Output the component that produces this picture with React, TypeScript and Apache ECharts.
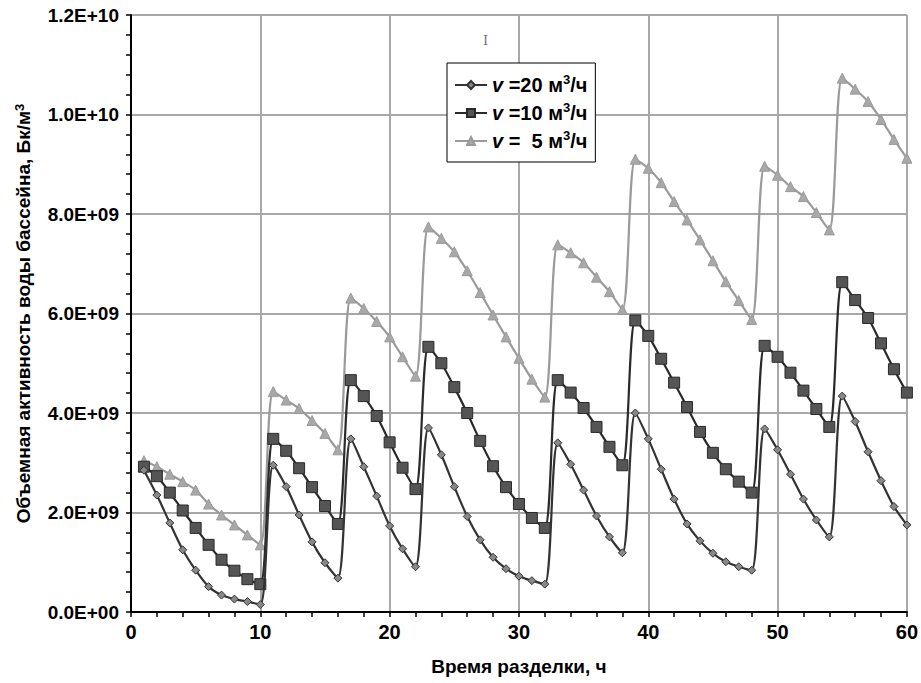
import React, { useEffect, useRef } from "react";
import * as echarts from "echarts";

const hours = [
  1, 2, 3, 4, 5, 6, 7, 8, 9, 10, 11, 12, 13, 14, 15, 16, 17, 18, 19, 20,
  21, 22, 23, 24, 25, 26, 27, 28, 29, 30, 31, 32, 33, 34, 35, 36, 37, 38, 39, 40,
  41, 42, 43, 44, 45, 46, 47, 48, 49, 50, 51, 52, 53, 54, 55, 56, 57, 58, 59, 60,
];

const v20 = [
  2.85e9, 2.35e9, 1.79e9, 1.25e9, 0.84e9, 0.51e9, 0.34e9, 0.26e9, 0.21e9, 0.15e9,
  2.95e9, 2.52e9, 1.95e9, 1.41e9, 0.99e9, 0.68e9,
  3.48e9, 2.92e9, 2.33e9, 1.73e9, 1.27e9, 0.91e9,
  3.70e9, 3.16e9, 2.52e9, 1.92e9, 1.45e9, 1.10e9, 0.87e9, 0.72e9, 0.63e9, 0.56e9,
  3.40e9, 2.97e9, 2.45e9, 1.93e9, 1.51e9, 1.19e9,
  4.00e9, 3.48e9, 2.87e9, 2.27e9, 1.77e9, 1.43e9, 1.18e9, 1.01e9, 0.91e9, 0.84e9,
  3.68e9, 3.26e9, 2.77e9, 2.27e9, 1.85e9, 1.51e9,
  4.34e9, 3.83e9, 3.22e9, 2.64e9, 2.12e9, 1.75e9,
];

const v10 = [
  2.92e9, 2.73e9, 2.40e9, 2.04e9, 1.69e9, 1.35e9, 1.05e9, 0.83e9, 0.66e9, 0.56e9,
  3.48e9, 3.24e9, 2.89e9, 2.51e9, 2.13e9, 1.77e9,
  4.66e9, 4.34e9, 3.94e9, 3.41e9, 2.90e9, 2.47e9,
  5.33e9, 5.00e9, 4.52e9, 4.00e9, 3.44e9, 2.93e9, 2.51e9, 2.17e9, 1.89e9, 1.69e9,
  4.66e9, 4.41e9, 4.10e9, 3.72e9, 3.32e9, 2.95e9,
  5.86e9, 5.55e9, 5.09e9, 4.61e9, 4.12e9, 3.62e9, 3.20e9, 2.87e9, 2.62e9, 2.40e9,
  5.35e9, 5.13e9, 4.81e9, 4.45e9, 4.08e9, 3.72e9,
  6.63e9, 6.27e9, 5.91e9, 5.40e9, 4.88e9, 4.41e9,
];

const v5 = [
  3.04e9, 2.92e9, 2.77e9, 2.62e9, 2.45e9, 2.17e9, 1.95e9, 1.75e9, 1.55e9, 1.35e9,
  4.43e9, 4.26e9, 4.09e9, 3.85e9, 3.59e9, 3.26e9,
  6.31e9, 6.10e9, 5.84e9, 5.53e9, 5.13e9, 4.74e9,
  7.74e9, 7.51e9, 7.24e9, 6.86e9, 6.42e9, 5.97e9, 5.53e9, 5.10e9, 4.68e9, 4.32e9,
  7.38e9, 7.22e9, 7.02e9, 6.73e9, 6.44e9, 6.08e9,
  9.10e9, 8.92e9, 8.63e9, 8.25e9, 7.88e9, 7.48e9, 7.06e9, 6.64e9, 6.26e9, 5.88e9,
  8.96e9, 8.78e9, 8.55e9, 8.35e9, 8.03e9, 7.68e9,
  10.73e9, 10.51e9, 10.26e9, 9.90e9, 9.50e9, 9.12e9,
];

const seriesNames = ["v = 20 м³/ч", "v = 10 м³/ч", "v = 5 м³/ч"];
const legendNumbers = ["20", "10", "\u20075"];
const yTickLabels = ["0.0E+00", "2.0E+09", "4.0E+09", "6.0E+09", "8.0E+09", "1.0E+10", "1.2E+10"];
const xTickLabels = ["0", "10", "20", "30", "40", "50", "60"];
const xTitle = "Время разделки, ч";
const yTitle = "Объемная активность воды бассейна, Бк/м";

const FONT = "'Liberation Sans', Arial, sans-serif";

export default function App() {
  const ref = useRef<HTMLDivElement>(null);
  useEffect(() => {
    if (!ref.current) return;
    const chart = echarts.init(ref.current, null, { renderer: "svg" });
    const pts = (vals: number[]) => hours.map((h, i) => [h, vals[i]]);
    const supRich = {
      t: { fontFamily: FONT, fontWeight: "bold", fontSize: 20, color: "#000", lineHeight: 24 },
      i: { fontFamily: FONT, fontWeight: "bold", fontStyle: "italic", fontSize: 20, color: "#000", lineHeight: 24 },
      sup: { fontFamily: FONT, fontWeight: "bold", fontSize: 13, color: "#000", verticalAlign: "top", lineHeight: 24, padding: [0, 0, 10, 0] },
    };
    chart.setOption({
      animation: false,
      backgroundColor: "#fff",
      grid: { left: 131, right: 13, top: 15, bottom: 71, containLabel: false },
      graphic: [
        {
          type: "text",
          left: 483,
          top: 34,
          style: { text: "I", fill: "#777", font: "13px 'DejaVu Serif', serif" },
        },
      ],
      legend: {
        orient: "vertical",
        left: 447,
        top: 63,
        padding: [10, 8, 10, 7],
        itemWidth: 32,
        itemHeight: 10,
        itemGap: 5,
        backgroundColor: "#fff",
        borderColor: "#000",
        borderWidth: 1,
        data: seriesNames,
        formatter: (name: string) => {
          const idx = seriesNames.indexOf(name);
          return `{i|v}{t| =${legendNumbers[idx]} м}{sup|3}{t|/ч}`;
        },
        textStyle: { rich: supRich },
      },
      xAxis: {
        type: "value",
        min: 0,
        max: 60,
        interval: 10,
        name: xTitle,
        nameLocation: "middle",
        nameGap: 45,
        nameTextStyle: { fontFamily: FONT, fontWeight: "bold", fontSize: 19, color: "#000" },
        axisLine: { lineStyle: { color: "#000", width: 2 } },
        axisTick: { show: true, inside: false, length: 5, lineStyle: { color: "#000", width: 1.5 } },
        minorTick: { show: true, splitNumber: 5, length: 5, lineStyle: { color: "#000", width: 1.5 } },
        splitLine: { show: true, lineStyle: { color: "#a8a8a8", width: 2 } },
        axisLabel: {
          margin: 10,
          fontFamily: FONT,
          fontWeight: "bold",
          fontSize: 20,
          color: "#000",
          formatter: (v: number) => xTickLabels[Math.round(v / 10)] ?? "",
        },
      },
      yAxis: {
        type: "value",
        min: 0,
        max: 1.2e10,
        interval: 2e9,
        name: yTitle + "{sup|3}",
        nameLocation: "middle",
        nameGap: 97,
        nameTextStyle: {
          fontFamily: FONT,
          fontWeight: "bold",
          fontSize: 19,
          color: "#000",
          rich: {
            sup: { fontFamily: FONT, fontWeight: "bold", fontSize: 13, color: "#000", verticalAlign: "top", padding: [0, 0, 8, 0] },
          },
        },
        axisLine: { show: true, lineStyle: { color: "#000", width: 2 } },
        axisTick: { show: true, inside: false, length: 5, lineStyle: { color: "#000", width: 1.5 } },
        minorTick: { show: true, splitNumber: 5, length: 5, lineStyle: { color: "#000", width: 1.5 } },
        splitLine: { show: true, lineStyle: { color: "#a8a8a8", width: 2 } },
        axisLabel: {
          margin: 12,
          fontFamily: FONT,
          fontWeight: "bold",
          fontSize: 19,
          color: "#000",
          formatter: (v: number) => yTickLabels[Math.round(v / 2e9)] ?? "",
        },
      },
      series: [
        {
          name: seriesNames[2],
          type: "line",
          data: pts(v5),
          smooth: 0.3,
          symbol: "triangle",
          symbolSize: 10,
          z: 2,
          lineStyle: { color: "#9a9a9a", width: 2.2 },
          itemStyle: { color: "#a8a8a8", borderColor: "#9a9a9a", borderWidth: 1 },
        },
        {
          name: seriesNames[1],
          type: "line",
          data: pts(v10),
          smooth: 0.3,
          symbol: "rect",
          symbolSize: 11,
          z: 3,
          lineStyle: { color: "#2a2a2a", width: 2.2 },
          itemStyle: { color: "#555", borderColor: "#2a2a2a", borderWidth: 1 },
        },
        {
          name: seriesNames[0],
          type: "line",
          data: pts(v20),
          smooth: 0.3,
          symbol: "diamond",
          symbolSize: 8,
          z: 4,
          lineStyle: { color: "#333", width: 2.2 },
          itemStyle: { color: "#888", borderColor: "#333", borderWidth: 1 },
        },
      ],
    });
    return () => chart.dispose();
  }, []);
  return (
    <div
      ref={ref}
      style={{ position: "fixed", left: 0, top: 0, width: 921, height: 683 }}
    />
  );
}
